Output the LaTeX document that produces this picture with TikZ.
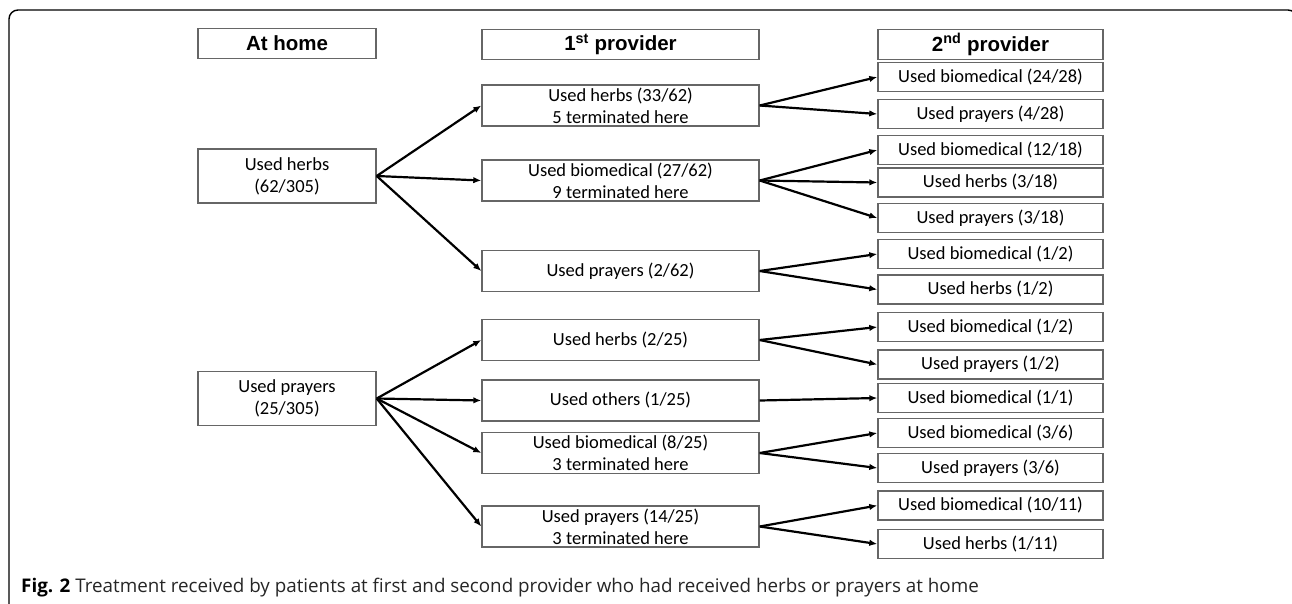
\documentclass[tikz,border=0pt]{standalone}
\usepackage{fontspec}
\setmainfont{Carlito}
\newfontfamily\headfont{Liberation Sans}
\newfontfamily\capfont{Open Sans}
\usetikzlibrary{arrows.meta}

\begin{document}
\begin{tikzpicture}[x=1pt,y=-1pt,
  box/.style={draw=black!60,line width=1.4pt,inner sep=0pt,align=center,
    font=\fontsize{18.5}{22}\selectfont},
  head/.style={box,font=\headfont\bfseries\fontsize{20.5}{24}\selectfont,minimum height=30pt},
  colA/.style={box,minimum width=178pt,minimum height=54pt},
  colB/.style={box,minimum width=277pt,minimum height=41pt},
  colC/.style={box,minimum width=225pt,minimum height=29pt},
  arr/.style={-{Latex[length=8pt,width=6.5pt]},line width=2.2pt}]
\clip (0,0) rectangle (1292,603);
% frame
\draw [line width=1.4pt,rounded corners=9pt] (9,610) -- (9,10) -- (1297,10) -- (1297,610);

% headers
\node [head,minimum width=178pt] (ha) at (287,43.5) {At home};
\node [head,minimum width=277pt] (hb) at (620.5,44.5) {1\textsuperscript{st} provider};
\node [head,minimum width=225pt] (hc) at (990.5,44.5) {2\textsuperscript{nd} provider};

% at home
\node [colA] (a1) at (287,176) {Used herbs\\(62/305)};
\node [colA] (a2) at (287,398.5) {Used prayers\\(25/305)};

% 1st provider
\node [colB] (b1) at (620.5,105.5) {Used herbs (33/62)\\5 terminated here};
\node [colB] (b2) at (620.5,180.5) {Used biomedical (27/62)\\9 terminated here};
\node [colB] (b3) at (620.5,271) {Used prayers (2/62)};
\node [colB] (b4) at (620.5,340) {Used herbs (2/25)};
\node [colB] (b5) at (620.5,400.5) {Used others (1/25)};
\node [colB] (b6) at (620.5,453) {Used biomedical (8/25)\\3 terminated here};
\node [colB] (b7) at (620.5,526.5) {Used prayers (14/25)\\3 terminated here};

% 2nd provider
\node [colC] (c1) at (990.5,77) {Used biomedical (24/28)};
\node [colC] (c2) at (990.5,114) {Used prayers (4/28)};
\node [colC] (c3) at (990.5,150) {Used biomedical (12/18)};
\node [colC] (c4) at (990.5,182.5) {Used herbs (3/18)};
\node [colC] (c5) at (990.5,218) {Used prayers (3/18)};
\node [colC] (c6) at (990.5,254) {Used biomedical (1/2)};
\node [colC] (c7) at (990.5,289.5) {Used herbs (1/2)};
\node [colC] (c8) at (990.5,327) {Used biomedical (1/2)};
\node [colC] (c9) at (990.5,364.5) {Used prayers (1/2)};
\node [colC] (c10) at (990.5,398) {Used biomedical (1/1)};
\node [colC] (c11) at (990.5,433) {Used biomedical (3/6)};
\node [colC] (c12) at (990.5,468) {Used prayers (3/6)};
\node [colC] (c13) at (990.5,505.5) {Used biomedical (10/11)};
\node [colC] (c14) at (990.5,544) {Used herbs (1/11)};

% arrows home -> 1st
\draw [arr] (a1.east) -- (b1.west);
\draw [arr] (a1.east) -- (b2.west);
\draw [arr] (a1.east) -- (b3.west);
\draw [arr] (a2.east) -- (b4.west);
\draw [arr] (a2.east) -- (b5.west);
\draw [arr] (a2.east) -- (b6.west);
\draw [arr] (a2.east) -- (b7.west);

% arrows 1st -> 2nd
\draw [arr] (b1.east) -- (c1.west);
\draw [arr] (b1.east) -- (c2.west);
\draw [arr] (b2.east) -- (c3.west);
\draw [arr] (b2.east) -- (c4.west);
\draw [arr] (b2.east) -- (c5.west);
\draw [arr] (b3.east) -- (c6.west);
\draw [arr] (b3.east) -- (c7.west);
\draw [arr] (b4.east) -- (c8.west);
\draw [arr] (b4.east) -- (c9.west);
\draw [arr] (b5.east) -- (c10.west);
\draw [arr] (b6.east) -- (c11.west);
\draw [arr] (b6.east) -- (c12.west);
\draw [arr] (b7.east) -- (c13.west);
\draw [arr] (b7.east) -- (c14.west);

% caption
\node [anchor=base west,inner sep=0pt,text=black!85,font=\capfont\fontsize{18.8}{22}\selectfont] (cap) at (21,592)
  {\textcolor{black}{\textbf{Fig. 2}} Treatment received by patients at first and second provider who had received herbs or prayers at home};
\end{tikzpicture}
\end{document}
